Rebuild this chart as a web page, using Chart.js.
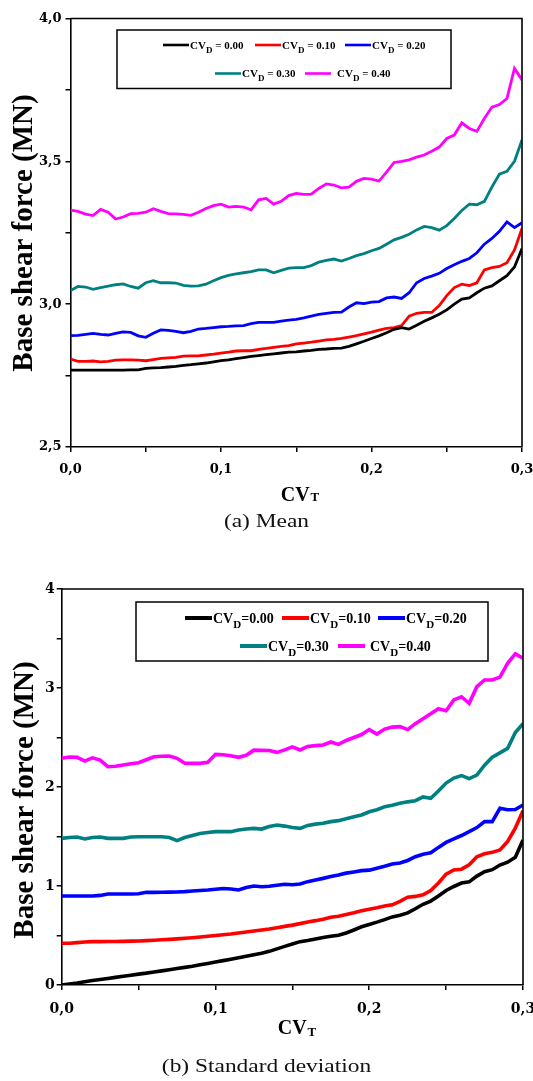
<!DOCTYPE html>
<html><head><meta charset="utf-8">
<script src="https://cdn.jsdelivr.net/npm/chart.js@4.4.0/dist/chart.umd.min.js"></script>
<style>
html,body{margin:0;padding:0;background:#fff;}
body{width:533px;height:1081px;position:relative;overflow:hidden;}
canvas{position:absolute;left:0;}
#ca{top:0;} #cb{top:540px;}
.cap{position:absolute;left:0;width:533px;text-align:center;font-family:"Liberation Serif",serif;font-size:18px;line-height:22px;color:#111;transform:scaleX(1.3);transform-origin:center;}
</style></head><body>
<canvas id="ca" width="533" height="540"></canvas>
<canvas id="cb" width="533" height="541"></canvas>
<div class="cap" style="top:510px;">(a) Mean</div>
<div class="cap" style="top:1055px;">(b) Standard deviation</div>
<script>
// ---------- data ----------
const cvT = [0,0.005,0.01,0.015,0.02,0.025,0.03,0.035,0.04,0.045,0.05,0.055,0.06,0.065,0.07,0.075,0.08,0.085,0.09,0.095,0.1,0.105,0.11,0.115,0.12,0.125,0.13,0.135,0.14,0.145,0.15,0.155,0.16,0.165,0.17,0.175,0.18,0.185,0.19,0.195,0.2,0.205,0.21,0.215,0.22,0.225,0.23,0.235,0.24,0.245,0.25,0.255,0.26,0.265,0.27,0.275,0.28,0.285,0.29,0.295,0.3];
const cvDLabels = ['0.00','0.10','0.20','0.30','0.40'];

const meanD00 = [2.769,2.769,2.769,2.769,2.769,2.769,2.769,2.769,2.770,2.770,2.775,2.777,2.778,2.780,2.782,2.786,2.788,2.791,2.794,2.798,2.802,2.805,2.809,2.813,2.817,2.820,2.823,2.826,2.829,2.832,2.833,2.836,2.838,2.842,2.843,2.845,2.846,2.852,2.861,2.870,2.880,2.889,2.900,2.912,2.918,2.913,2.926,2.940,2.952,2.965,2.980,3.000,3.018,3.022,3.040,3.056,3.064,3.082,3.100,3.130,3.195];
const meanD10 = [2.808,2.800,2.800,2.801,2.798,2.800,2.804,2.805,2.805,2.804,2.802,2.806,2.810,2.812,2.814,2.818,2.819,2.819,2.822,2.825,2.829,2.832,2.836,2.837,2.837,2.842,2.845,2.849,2.852,2.855,2.861,2.864,2.867,2.871,2.875,2.877,2.880,2.885,2.890,2.896,2.902,2.909,2.915,2.918,2.925,2.958,2.968,2.971,2.971,2.995,3.030,3.058,3.070,3.065,3.075,3.120,3.128,3.132,3.145,3.190,3.265];
const meanD20 = [2.890,2.891,2.894,2.898,2.894,2.892,2.898,2.903,2.901,2.889,2.884,2.898,2.910,2.908,2.905,2.900,2.905,2.913,2.915,2.918,2.921,2.922,2.924,2.925,2.932,2.936,2.936,2.936,2.941,2.944,2.947,2.952,2.958,2.964,2.968,2.971,2.972,2.990,3.005,3.002,3.007,3.009,3.022,3.025,3.020,3.040,3.075,3.090,3.098,3.108,3.125,3.138,3.150,3.160,3.180,3.210,3.230,3.255,3.288,3.268,3.285];
const meanD30 = [3.048,3.062,3.060,3.052,3.058,3.063,3.068,3.071,3.062,3.056,3.075,3.082,3.075,3.075,3.074,3.066,3.063,3.064,3.070,3.082,3.093,3.101,3.106,3.110,3.114,3.120,3.120,3.110,3.118,3.126,3.128,3.128,3.135,3.147,3.153,3.158,3.151,3.160,3.170,3.177,3.187,3.195,3.210,3.225,3.234,3.245,3.260,3.272,3.268,3.259,3.275,3.300,3.328,3.350,3.348,3.360,3.410,3.455,3.465,3.500,3.575];
const meanD40 = [3.329,3.325,3.315,3.310,3.332,3.322,3.298,3.305,3.317,3.318,3.322,3.334,3.325,3.317,3.316,3.314,3.311,3.322,3.335,3.345,3.350,3.340,3.342,3.340,3.330,3.365,3.370,3.350,3.360,3.380,3.388,3.384,3.385,3.405,3.421,3.417,3.407,3.410,3.430,3.440,3.438,3.431,3.462,3.496,3.500,3.505,3.515,3.522,3.535,3.550,3.580,3.592,3.635,3.615,3.605,3.650,3.690,3.699,3.720,3.825,3.785];

const sdD00 = [0.000,0.010,0.020,0.032,0.045,0.055,0.066,0.077,0.088,0.099,0.110,0.120,0.132,0.143,0.155,0.166,0.178,0.190,0.205,0.218,0.232,0.246,0.260,0.275,0.290,0.305,0.320,0.340,0.365,0.390,0.415,0.438,0.450,0.465,0.480,0.492,0.503,0.525,0.556,0.588,0.612,0.635,0.660,0.688,0.705,0.728,0.770,0.815,0.848,0.900,0.955,0.995,1.030,1.042,1.100,1.145,1.165,1.212,1.240,1.290,1.465];
const sdD10 = [0.421,0.421,0.428,0.435,0.438,0.438,0.440,0.440,0.441,0.443,0.444,0.448,0.452,0.457,0.461,0.466,0.472,0.478,0.485,0.492,0.500,0.508,0.515,0.525,0.535,0.545,0.555,0.565,0.578,0.592,0.605,0.620,0.637,0.650,0.665,0.685,0.695,0.712,0.730,0.750,0.765,0.780,0.798,0.810,0.845,0.887,0.895,0.912,0.955,1.030,1.120,1.162,1.170,1.215,1.296,1.325,1.340,1.365,1.450,1.585,1.760];
const sdD20 = [0.899,0.899,0.899,0.899,0.899,0.905,0.919,0.919,0.919,0.919,0.922,0.936,0.936,0.937,0.938,0.940,0.943,0.950,0.955,0.960,0.968,0.975,0.970,0.960,0.985,1.000,0.993,0.998,1.008,1.018,1.012,1.020,1.044,1.060,1.077,1.095,1.111,1.130,1.142,1.155,1.160,1.180,1.200,1.222,1.232,1.258,1.296,1.320,1.335,1.390,1.440,1.475,1.510,1.550,1.590,1.650,1.650,1.785,1.770,1.772,1.818];
const sdD30 = [1.481,1.490,1.495,1.475,1.490,1.495,1.481,1.481,1.481,1.495,1.498,1.498,1.498,1.498,1.490,1.458,1.490,1.510,1.530,1.540,1.549,1.549,1.549,1.565,1.575,1.582,1.575,1.600,1.616,1.605,1.590,1.582,1.612,1.625,1.633,1.650,1.660,1.680,1.700,1.717,1.750,1.770,1.800,1.815,1.835,1.850,1.862,1.900,1.886,1.960,2.040,2.090,2.115,2.085,2.120,2.220,2.300,2.345,2.390,2.550,2.640];
const sdD40 = [2.290,2.303,2.300,2.262,2.295,2.272,2.205,2.210,2.222,2.235,2.245,2.275,2.305,2.310,2.312,2.290,2.240,2.239,2.239,2.250,2.330,2.325,2.316,2.300,2.320,2.372,2.370,2.368,2.350,2.375,2.405,2.374,2.410,2.418,2.424,2.455,2.430,2.470,2.500,2.530,2.580,2.535,2.585,2.605,2.610,2.580,2.640,2.690,2.740,2.790,2.770,2.880,2.912,2.845,3.013,3.081,3.081,3.110,3.250,3.345,3.300];

const xTickVals = [0,0.1,0.2,0.3];
const xTickLabels = ['0,0','0,1','0,2','0,3'];
const meanYTickVals = [2.5,3.0,3.5,4.0];
const meanYTickLabels = ['2,5','3,0','3,5','4,0'];
const sdYTickVals = [0,1,2,3,4];
const sdYTickLabels = ['0','1','2','3','4'];

// ---------- rendering ----------
const colors = ['#000000','#ff0000','#0000ff','#008080','#ff00ff'];

function mkDatasets(arrs, lw){
  return arrs.map((arr,i)=>({
    label:'CVD = '+cvDLabels[i],
    data: cvT.map((x,j)=>({x:x,y:arr[j]})),
    borderColor: colors[i], backgroundColor: colors[i],
    borderWidth: lw, pointRadius:0, tension:0, fill:false
  }));
}

const decor = {
  id:'decor',
  afterDatasetsDraw(chart, args, o){
    const ctx = chart.ctx, a = chart.chartArea;
    ctx.save();
    ctx.strokeStyle='#000'; ctx.lineWidth=1.6;
    ctx.beginPath();
    ctx.moveTo(a.left, a.top); ctx.lineTo(a.right, a.top); ctx.lineTo(a.right, a.bottom);
    ctx.stroke();
    // legend
    const b = o.box;
    ctx.fillStyle='#fff'; ctx.fillRect(b[0],b[1],b[2]-b[0],b[3]-b[1]);
    ctx.strokeStyle='#000'; ctx.lineWidth=1.5; ctx.strokeRect(b[0],b[1],b[2]-b[0],b[3]-b[1]);
    chart.data.datasets.forEach((ds,i)=>{
      const it = o.items[i];
      ctx.strokeStyle = ds.borderColor; ctx.lineWidth = o.sampleWidth; ctx.lineCap='butt';
      ctx.beginPath(); ctx.moveTo(it[0], it[1]); ctx.lineTo(it[0]+o.sampleLen, it[1]); ctx.stroke();
      let x = it[0] + o.sampleLen + it[2];
      const base = it[1] + o.fs*0.33;
      ctx.fillStyle='#000'; ctx.textAlign='left'; ctx.textBaseline='alphabetic';
      ctx.font = 'bold '+o.fs+'px "Liberation Serif"';
      ctx.fillText('CV', x, base); x += ctx.measureText('CV').width;
      ctx.font = 'bold '+Math.round(o.fs*0.8)+'px "Liberation Serif"';
      ctx.fillText('D', x, base + o.fs*0.38); x += ctx.measureText('D').width;
      ctx.font = 'bold '+o.fs+'px "Liberation Serif"';
      ctx.fillText(o.sep + cvDLabels[i], x, base);
    });
    // y title
    ctx.save();
    ctx.translate(o.yTitle[0], o.yTitle[1]);
    ctx.rotate(-Math.PI/2);
    ctx.fillStyle='#000'; ctx.textAlign='center'; ctx.textBaseline='middle';
    ctx.font = 'bold 29px "Liberation Serif"';
    ctx.fillText('Base shear force (MN)', 0, 0);
    ctx.restore();
    // x title: CV with small T
    ctx.font = 'bold 20px "Liberation Serif"';
    const w1 = ctx.measureText('CV').width;
    ctx.font = 'bold 13px "Liberation Serif"';
    const w2 = ctx.measureText('T').width;
    let xs = o.xTitle[0] - (w1+w2+1)/2;
    ctx.fillStyle='#000'; ctx.textAlign='left'; ctx.textBaseline='alphabetic';
    ctx.font = 'bold 20px "Liberation Serif"';
    ctx.fillText('CV', xs, o.xTitle[1]+7);
    ctx.font = 'bold 13px "Liberation Serif"';
    ctx.fillText('T', xs+w1+1, o.xTitle[1]+7+o.tShift);
    ctx.restore();
  }
};

function makeChart(id, datasets, cfg){
  return new Chart(document.getElementById(id), {
    type:'line',
    data:{datasets:datasets},
    plugins:[decor],
    options:{
      responsive:false, animation:false, devicePixelRatio:1,
      layout:{padding:{top:cfg.top, right:cfg.right, left:0, bottom:0}},
      plugins:{legend:{display:false}, tooltip:{enabled:false}, title:{display:false}, decor:cfg.decor},
      scales:{
        x:{
          type:'linear', min:0, max:0.3,
          afterBuildTicks:(s)=>{ const t=[]; for(let k=0;k<=6;k++) t.push({value:k*0.05}); s.ticks=t; },
          afterFit:(s)=>{ s.height = cfg.xh; s.paddingLeft=0; s.paddingRight=0; },
          grid:{drawOnChartArea:false, drawTicks:true, tickLength:5, color:'#000', lineWidth:1.5},
          border:{display:true, color:'#000', width:1.6},
          ticks:{autoSkip:false, maxRotation:0, padding:cfg.xpad, color:'#000',
            font:{family:'DejaVu Serif', weight:'bold', size:cfg.xfs},
            callback:(v)=>{ const i = xTickVals.findIndex(t=>Math.abs(t-v)<1e-6); return i>=0 ? xTickLabels[i] : ''; }}
        },
        y:{
          type:'linear', min:cfg.ymin, max:cfg.ymax,
          afterBuildTicks:(s)=>{ const t=[]; for(let v=cfg.ymin; v<=cfg.ymax+1e-9; v+=cfg.minor) t.push({value:Math.round(v*1000)/1000}); s.ticks=t; },
          afterFit:(s)=>{ s.width = cfg.yw; s.paddingTop=0; s.paddingBottom=0; },
          grid:{drawOnChartArea:false, drawTicks:true, tickLength:5, color:'#000', lineWidth:1.5},
          border:{display:true, color:'#000', width:1.6},
          ticks:{autoSkip:false, padding:cfg.ypad, color:'#000',
            font:{family:'DejaVu Serif', weight:'bold', size:cfg.yfs},
            callback:(v)=>{ const i = cfg.yVals.findIndex(t=>Math.abs(t-v)<1e-6); return i>=0 ? cfg.yLabels[i] : ''; }}
        }
      }
    }
  });
}

makeChart('ca', mkDatasets([meanD00,meanD10,meanD20,meanD30,meanD40], 2.8), {
  top:18.5, right:11, xh:540-447, yw:70.5, xpad:10, ypad:4, xfs:13, yfs:13,
  ymin:2.5, ymax:4.0, minor:0.25, yVals:meanYTickVals, yLabels:meanYTickLabels,
  decor:{box:[117,30,451,88.5], sampleLen:26, sampleWidth:2.6, fs:11, sep:' = ',
    items:[[163,45,1],[255,45,1],[345,45,1],[215,73.5,1],[305,73.5,6]],
    yTitle:[25,233], xTitle:[300,494], tShift:0}
});

makeChart('cb', mkDatasets([sdD00,sdD10,sdD20,sdD30,sdD40], 3.6), {
  top:49, right:10, xh:541-445, yw:61.7, xpad:11, ypad:2, xfs:14, yfs:14,
  ymin:0, ymax:4, minor:0.5, yVals:sdYTickVals, yLabels:sdYTickLabels,
  decor:{box:[136,62,488,121], sampleLen:27, sampleWidth:4, fs:14, sep:'=',
    items:[[185,78,1],[282,78,1],[378,78,1],[240,106,1],[338,106,5]],
    yTitle:[26,260], xTitle:[297,487], tShift:2}
});
</script>
</body></html>
